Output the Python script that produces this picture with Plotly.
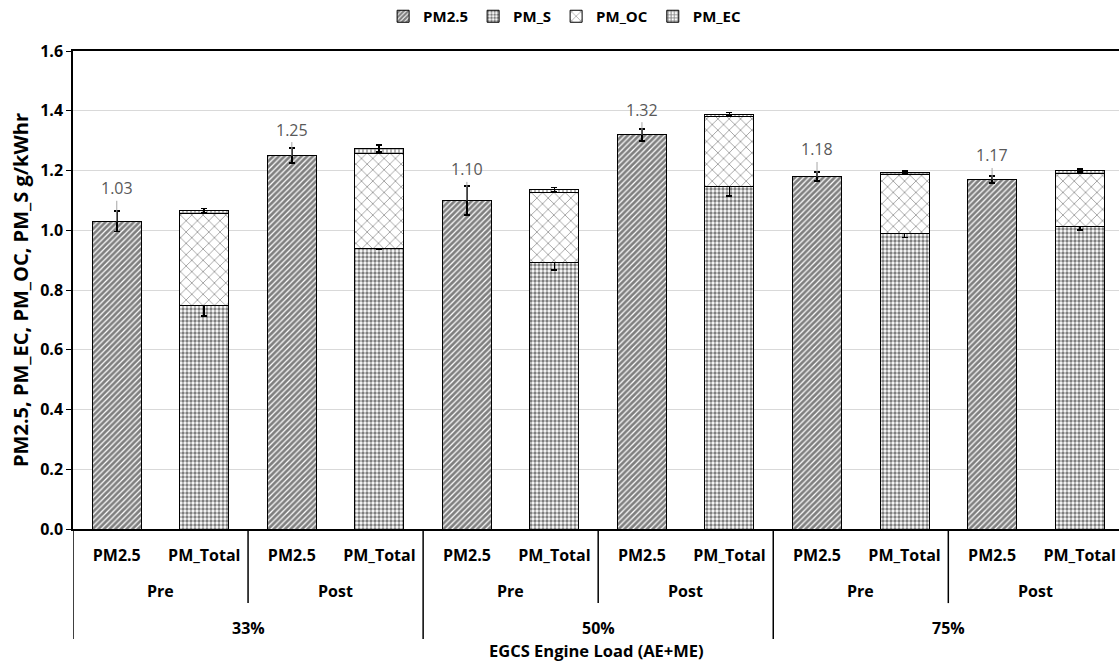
import plotly.graph_objects as go

# ---------------- data ----------------
loads = ["33%", "50%", "75%"]
phases = ["Pre", "Post"]
bar_types = ["PM2.5", "PM_Total"]

pm25 = [1.03, 1.25, 1.10, 1.32, 1.18, 1.17]
pm25_err = [0.034, 0.025, 0.048, 0.02, 0.015, 0.011]

pm_s = [0.748, 0.940, 0.893, 1.145, 0.990, 1.013]
pm_s_err = [0.035, 0.004, 0.025, 0.03, 0.014, 0.011]
pm_oc = [0.308, 0.317, 0.232, 0.235, 0.195, 0.178]
pm_ec = [0.009, 0.016, 0.010, 0.008, 0.008, 0.009]
pm_total_err = [0.008, 0.012, 0.008, 0.006, 0.005, 0.004]

label_offsets = [33, 26, 31, 25, 27, 24]  # px, leader line length

# ---------------- layout helpers ----------------
n_groups = len(loads) * len(phases)
x_pm25 = [2 * i for i in range(n_groups)]
x_tot = [2 * i + 1 for i in range(n_groups)]
FONT = "Open Sans"
W = 0.56
BOLD = dict(family=FONT, size=16, color="black", weight="bold")

fig = go.Figure()
fig.add_trace(go.Bar(
    name="PM2.5", x=x_pm25, y=pm25, width=W,
    marker=dict(color="white", line=dict(color="black", width=1),
                pattern=dict(shape="/", fgcolor="black", bgcolor="white", size=4, solidity=0.7)),
    error_y=dict(type="data", array=pm25_err, color="black", thickness=1.8, width=3),
))
fig.add_trace(go.Bar(
    name="PM_S", x=x_tot, y=pm_s, width=W,
    marker=dict(color="white", line=dict(color="black", width=1),
                pattern=dict(shape=".", fgcolor="black", bgcolor="white", size=4, solidity=0.55)),
    error_y=dict(type="data", array=pm_s_err, color="black", thickness=1.8, width=3),
))
fig.add_trace(go.Bar(
    name="PM_OC", x=x_tot, y=pm_oc, width=W,
    marker=dict(color="white", line=dict(color="black", width=1),
                pattern=dict(shape="x", fgcolor="#303030", bgcolor="white", size=8, solidity=0.2)),
))
fig.add_trace(go.Bar(
    name="PM_EC", x=x_tot, y=pm_ec, width=W,
    marker=dict(color="white", line=dict(color="black", width=1),
                pattern=dict(shape="+", fgcolor="black", bgcolor="white", size=4, solidity=0.5)),
    error_y=dict(type="data", array=pm_total_err, color="black", thickness=1.8, width=3),
))

# value labels with leader lines
for xi, v, off in zip(x_pm25, pm25, label_offsets):
    fig.add_annotation(x=xi, y=v, xref="x", yref="y", text=f"{v:.2f}",
                       showarrow=True, arrowhead=0, arrowwidth=1, arrowcolor="#a6a6a6",
                       ax=0, ay=-off, font=dict(family=FONT, size=16, color="#595959"))

# multi-level category labels and dividers
Y_PHASE = -0.129
Y_LOAD = -0.207
for gi in range(n_groups):
    fig.add_annotation(x=2 * gi + 0.5, y=Y_PHASE, xref="x", yref="paper",
                       text=phases[gi % 2], showarrow=False, yanchor="middle", font=BOLD)
for li, ld in enumerate(loads):
    fig.add_annotation(x=4 * li + 1.5, y=Y_LOAD, xref="x", yref="paper",
                       text=ld, showarrow=False, yanchor="middle", font=BOLD)
for gi in range(n_groups + 1):
    xb = 2 * gi - 0.5
    y1 = -0.23 if gi % 2 == 0 else -0.155
    fig.add_shape(type="line", xref="x", yref="paper", x0=xb, x1=xb, y0=0, y1=y1,
                  line=dict(color="black", width=1.5))
fig.add_annotation(x=0.5, y=-0.254, xref="paper", yref="paper",
                   text="EGCS Engine Load (AE+ME)", showarrow=False, yanchor="middle",
                   font=dict(family=FONT, size=16.5, color="black", weight="bold"))

fig.update_layout(
    width=1119, height=665,
    margin=dict(l=73, r=0, t=50, b=136),
    plot_bgcolor="white", paper_bgcolor="white",
    barmode="stack",
    font=dict(family=FONT, color="black"),
    showlegend=True,
    legend=dict(orientation="h", x=0.47, xanchor="center", y=1.073, yanchor="middle",
                font=dict(family=FONT, size=15, color="black", weight="bold"),
                itemwidth=30, traceorder="normal"),
)
fig.update_xaxes(
    range=[-0.5, 11.45], tickvals=list(range(2 * n_groups)),
    ticktext=[bar_types[i % 2] for i in range(2 * n_groups)],
    tickfont=BOLD,
    ticks="", ticklabelstandoff=11,
    showline=True, linecolor="black", linewidth=1.5, mirror=True,
    showgrid=False, zeroline=False,
)
fig.update_yaxes(
    range=[0, 1.6], dtick=0.2, tickformat=".1f",
    tickfont=BOLD,
    ticks="outside", ticklen=5, tickcolor="black",
    showline=True, linecolor="black", linewidth=1.5,
    showgrid=True, gridcolor="#d9d9d9", gridwidth=1, zeroline=False,
    title=dict(text="PM2.5, PM_EC, PM_OC, PM_S g/kWhr",
               font=dict(family=FONT, size=20, color="black", weight="bold"), standoff=6),
)

fig.write_html("out.html")
